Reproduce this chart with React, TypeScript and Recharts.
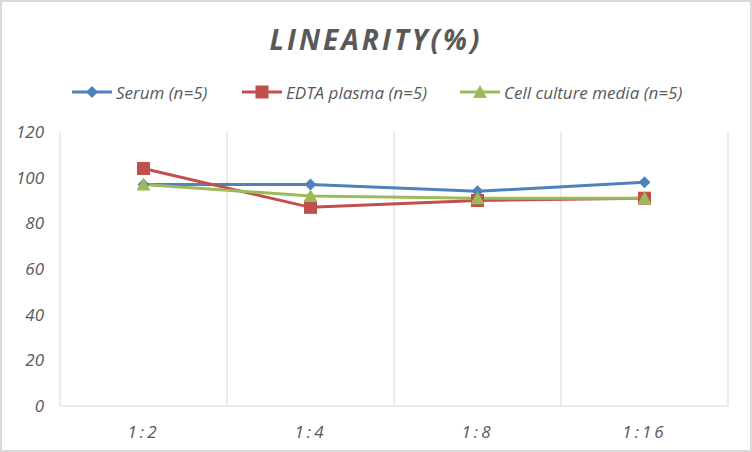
import { LineChart, Line, XAxis, YAxis, CartesianGrid } from "recharts";

const dilutions = ["1:2", "1:4", "1:8", "1:16"];
const serum = [97, 97, 94, 98];
const edtaPlasma = [104, 87, 90, 91];
const cellCulture = [97, 92, 91, 91];
const yTicks = [0, 20, 40, 60, 80, 100, 120];

const BLUE = "#4F81BD";
const RED = "#C0504D";
const GREEN = "#9BBB59";
const TEXT = "#595959";
const FONT = "'Open Sans', 'Liberation Sans', sans-serif";

const data = dilutions.map((d, i) => ({
  label: d,
  serum: serum[i],
  edta: edtaPlasma[i],
  cell: cellCulture[i],
}));

const series = [
  { key: "serum", name: "Serum (n=5)", color: BLUE, shape: "diamond" },
  { key: "edta", name: "EDTA plasma (n=5)", color: RED, shape: "square" },
  { key: "cell", name: "Cell culture media (n=5)", color: GREEN, shape: "triangle" },
];

function Marker({ cx, cy, shape, color }: { cx: number; cy: number; shape: string; color: string }) {
  if (cx == null || cy == null) return null;
  if (shape === "diamond") {
    const r = 6;
    return <path d={`M${cx},${cy - r}L${cx + r},${cy}L${cx},${cy + r}L${cx - r},${cy}Z`} fill={color} />;
  }
  if (shape === "square") {
    const s = 13;
    return <rect x={cx - s / 2} y={cy - s / 2} width={s} height={s} fill={color} />;
  }
  const h = 12;
  return <path d={`M${cx},${cy - h / 2 - 1}L${cx + 7},${cy + h / 2}L${cx - 7},${cy + h / 2}Z`} fill={color} />;
}

function LegendRow() {
  const spots = [72, 242, 460];
  return (
    <div style={{ position: "absolute", left: -2, top: 78, width: 752, height: 24, fontFamily: FONT, fontStyle: "italic", fontSize: 17, color: TEXT }}>
      {series.map((s, i) => (
        <div key={s.key} style={{ position: "absolute", left: spots[i], top: 0, display: "flex", alignItems: "center", height: 24 }}>
          <svg width={42} height={16}>
            <line x1={0} y1={8} x2={40} y2={8} stroke={s.color} strokeWidth={3} />
            <Marker cx={20} cy={8} shape={s.shape} color={s.color} />
          </svg>
          <span style={{ marginLeft: 2 }}>{s.name}</span>
        </div>
      ))}
    </div>
  );
}

export default function App() {
  return (
    <div
      style={{
        position: "fixed",
        left: 0,
        top: 0,
        width: 752,
        height: 452,
        boxSizing: "border-box",
        border: "2px solid #d9d9d9",
        background: "#fff",
      }}
    >
      <div
        style={{
          position: "absolute",
          left: 0,
          top: 18,
          width: 748,
          textAlign: "center",
          fontFamily: FONT,
          fontStyle: "italic",
          fontWeight: 700,
          fontSize: 28,
          letterSpacing: 3,
          color: TEXT,
        }}
      >
        LINEARITY(%)
      </div>
      <LegendRow />
      <div style={{ position: "absolute", left: -2, top: -2 }}>
        <LineChart width={752} height={452} data={data} margin={{ top: 132, right: 24, bottom: 0, left: 0 }}>
          <CartesianGrid
            horizontal={false}
            stroke="#d9d9d9"
            verticalCoordinatesGenerator={({ offset }: any) =>
              [0, 1, 2, 3, 4].map((i) => offset.left + (i * offset.width) / 4)
            }
          />
          <XAxis
            dataKey="label"
            height={46}
            padding={{ left: 83.5, right: 83.5 }}
            axisLine={{ stroke: "#d9d9d9" }}
            tickLine={false}
            tickMargin={14}
            tick={{ fill: TEXT, fontSize: 17, fontStyle: "italic", fontFamily: FONT, letterSpacing: 3 }}
          />
          <YAxis
            width={60}
            domain={[0, 120]}
            ticks={yTicks}
            axisLine={false}
            tickLine={false}
            tickMargin={10}
            tick={{ fill: TEXT, fontSize: 17, fontStyle: "italic", fontFamily: FONT }}
          />
          {series.map((s) => (
            <Line
              key={s.key}
              dataKey={s.key}
              name={s.name}
              stroke={s.color}
              strokeWidth={3}
              isAnimationActive={false}
              dot={(p: any) => <Marker key={`${s.key}-${p.index}`} cx={p.cx} cy={p.cy} shape={s.shape} color={s.color} />}
              activeDot={false}
            />
          ))}
        </LineChart>
      </div>
    </div>
  );
}
